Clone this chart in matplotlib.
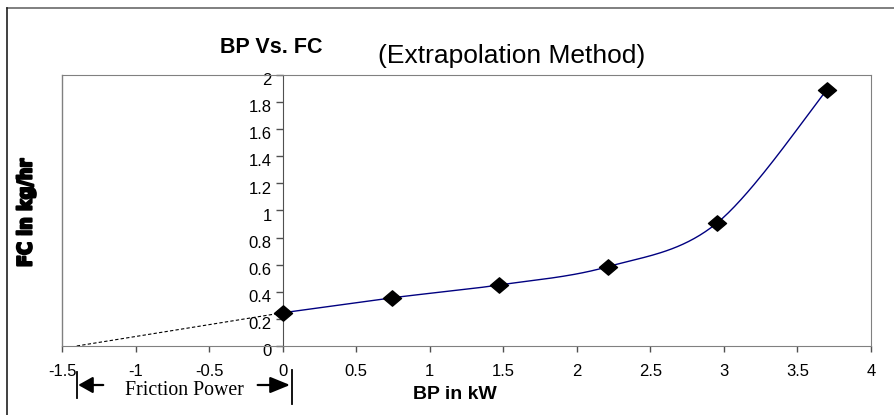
import numpy as np
import matplotlib.pyplot as plt
import matplotlib.patheffects as pe
from matplotlib.path import Path
from matplotlib.transforms import blended_transform_factory, ScaledTranslation

# data
bp_kw = [0.0, 0.74, 1.47, 2.21, 2.95, 3.70]
fc_kghr = [0.245, 0.355, 0.45, 0.585, 0.905, 1.89]
friction_power = -1.4          # x intercept of the extrapolated line
x_ticks = [-1.5, -1, -0.5, 0, 0.5, 1, 1.5, 2, 2.5, 3, 3.5, 4]
x_labels = ['-1.5', '-1', '-0.5', '0', '0.5', '1', '1.5', '2', '2.5', '3', '3.5', '4']
y_ticks = [0, 0.2, 0.4, 0.6, 0.8, 1, 1.2, 1.4, 1.6, 1.8, 2]
y_labels = ['0', '0.2', '0.4', '0.6', '0.8', '1', '1.2', '1.4', '1.6', '1.8', '2']


def smooth_line(xs, ys, n=40):
    """Excel-like smoothed line (Catmull-Rom through bezier segments)."""
    p = np.column_stack([xs, ys]).astype(float)
    p = np.vstack([p[0], p, p[-1]])
    out = []
    t = np.linspace(0, 1, n)[:, None]
    for i in range(1, len(p) - 2):
        p0, p1, p2, p3 = p[i - 1], p[i], p[i + 1], p[i + 2]
        c1 = p1 + (p2 - p0) / 6
        c2 = p2 - (p3 - p1) / 6
        seg = ((1 - t) ** 3) * p1 + 3 * ((1 - t) ** 2) * t * c1 + 3 * (1 - t) * t ** 2 * c2 + t ** 3 * p2
        out.append(seg)
    out = np.vstack(out)
    return out[:, 0], out[:, 1]


fig = plt.figure(figsize=(8.94, 4.15), dpi=100)
ax = fig.add_axes([0.0694, 0.1663, 0.9049, 0.653])

sx, sy = smooth_line(bp_kw, fc_kghr)
ax.plot(sx, sy, color='#000080', lw=1.0, zorder=3)
ax.plot([friction_power, bp_kw[0]], [0, fc_kghr[0]], color='black', lw=0.8,
        linestyle=(0, (3, 2)), zorder=2)

diamond = Path([(-1, 0), (0, 0.85), (1, 0), (0, -0.85), (-1, 0)],
               [Path.MOVETO, Path.LINETO, Path.LINETO, Path.LINETO, Path.CLOSEPOLY])
ax.plot(bp_kw, fc_kghr, linestyle='none', marker=diamond, markersize=13,
        color='black', zorder=4, clip_on=False)

ax.set_xlim(-1.5, 4)
ax.set_ylim(0, 2)

ax.spines['left'].set_position(('data', 0))
ax.spines['left'].set_color('#505050')
for s in ['top', 'right', 'bottom']:
    ax.spines[s].set_color('#808080')
# plot area border on the left side
ax.plot([0, 0], [0, 1], transform=ax.transAxes, color='#808080', lw=1.0, clip_on=False)

ax.set_xticks(x_ticks)
ax.set_xticklabels(x_labels)
ax.set_yticks(y_ticks)
ax.set_yticklabels(y_labels)
ax.tick_params(axis='x', direction='out', length=4, width=1, color='#505050',
               pad=9, labelsize=12, labelfontfamily='Liberation Sans')
ax.tick_params(axis='y', direction='out', length=5, width=1, color='#505050',
               pad=3, labelsize=12, labelfontfamily='Liberation Sans')
for lab in ax.get_yticklabels():
    lab.set_transform(lab.get_transform() + ScaledTranslation(0, -3 / 72, fig.dpi_scale_trans))

# titles
fig.text(271.5 / 894, 1 - 53 / 415, 'BP Vs. FC', ha='center', va='baseline',
         fontsize=15.5, fontweight='bold', family='Liberation Sans')
fig.text(511.5 / 894, 1 - 63 / 415, '(Extrapolation Method)', ha='center', va='baseline',
         fontsize=19, family='Liberation Sans')
fig.text(455 / 894, 1 - 399 / 415, 'BP in kW', ha='center', va='baseline',
         fontsize=14, fontweight='bold', family='Liberation Sans')
ylab = fig.text(26 / 894, 1 - 213 / 415, 'FC in kg/hr', ha='center', va='center', rotation=90,
                fontsize=19, fontweight='heavy', fontstretch='condensed',
                family=['Liberation Sans Narrow', 'DejaVu Sans'],
                path_effects=[pe.withStroke(linewidth=1.6, foreground='black')])
# the label in the reference is a very narrow face; shrink to its length if needed
fig.canvas.draw()
h = ylab.get_window_extent().height
if h > 110:
    ylab.set_fontsize(19 * 108 / h)

# friction power annotation below the negative x range
fig.text(184 / 894, 1 - 395 / 415, 'Friction Power', ha='center', va='baseline',
         fontsize=14.3, family='Liberation Serif')
blend = blended_transform_factory(ax.transData, fig.transFigure)
arrow_y = 1 - 385 / 415
ax.annotate('', xy=(friction_power + 0.01, arrow_y), xytext=(friction_power + 0.18, arrow_y),
            xycoords=blend, textcoords=blend, annotation_clip=False,
            arrowprops=dict(arrowstyle='-|>,head_length=0.8,head_width=0.45', color='black',
                            lw=1.6, shrinkA=0, shrinkB=0, mutation_scale=11))
ax.annotate('', xy=(0.05, arrow_y), xytext=(-0.17, arrow_y),
            xycoords=blend, textcoords=blend, annotation_clip=False,
            arrowprops=dict(arrowstyle='-|>,head_length=1.1,head_width=0.45', color='black',
                            lw=1.6, shrinkA=0, shrinkB=0, mutation_scale=11))
ax.plot([friction_power, friction_power], [1 - 398 / 415, 1 - 372 / 415], transform=blend,
        color='black', lw=1.3, clip_on=False)
ax.plot([0.062, 0.062], [1 - 404 / 415, 1 - 370 / 415], transform=blend,
        color='black', lw=1.3, clip_on=False)

# outer chart frame (top and left edges visible)
fig.add_artist(plt.Line2D([7 / 894, 1], [1 - 8 / 415, 1 - 8 / 415], color='#6a6a6a', lw=1.2))
fig.add_artist(plt.Line2D([7 / 894, 7 / 894], [0, 1 - 8 / 415], color='#202020', lw=1.2))

fig.savefig('out.png', dpi=100)
